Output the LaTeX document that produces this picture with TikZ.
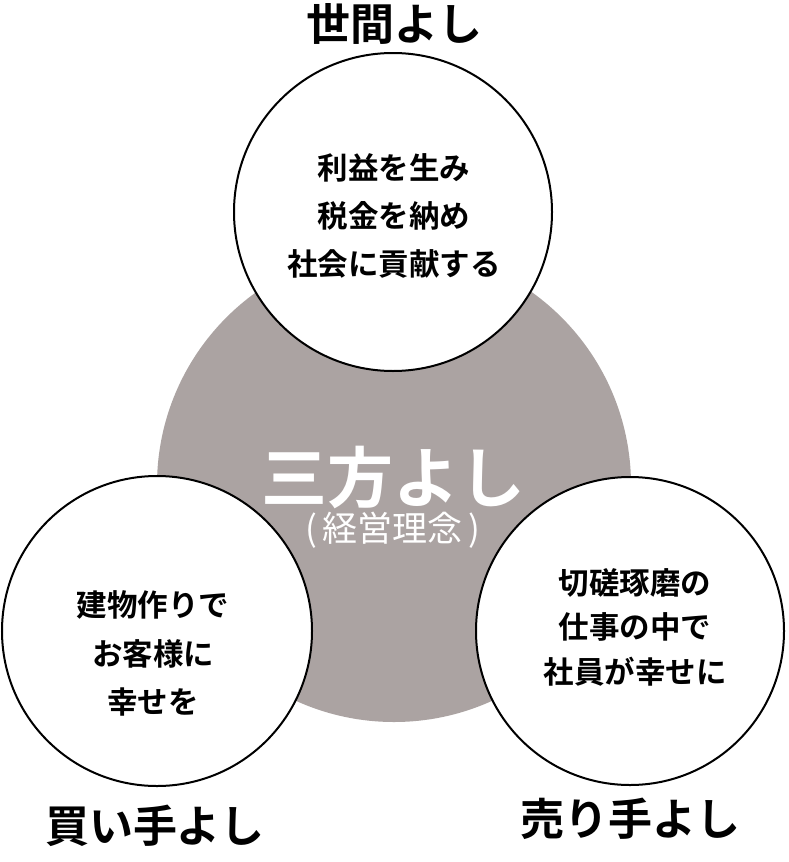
\documentclass[tikz,border=0pt]{standalone}
\usepackage{fontspec}
\newfontfamily\jpfont{Noto Sans CJK JP}[BoldFont={Noto Sans CJK JP Bold}]
\definecolor{hubgray}{RGB}{171,163,162}
\begin{document}
\begin{tikzpicture}[x=1pt,y=-1pt,
  sat/.style={circle,draw=black,line width=2pt,fill=white,inner sep=0pt},
  hub/.style={circle,fill=hubgray,inner sep=0pt},
  title/.style={font=\jpfont\bfseries\fontsize{44}{44}\selectfont,text=black,inner sep=0pt},
  body/.style={font=\jpfont\bfseries\fontsize{30.5}{30.5}\selectfont,text=black,inner sep=0pt}]
\useasboundingbox (0,0) rectangle (788,862);
\fill[white] (0,0) rectangle (788,862);
% hub
\node[hub,minimum size=474pt] (hubc) at (394,485) {};
\node[font=\jpfont\bfseries\fontsize{66}{66}\selectfont,text=white,inner sep=0pt] (hubt) at (393,478) {三方よし};
\node[font=\jpfont\fontsize{35}{35}\selectfont,text=white,inner sep=0pt] (hubs) at (393,530) {(\,経営理念\,)};
% satellites
\node[sat,minimum size=318pt] (top) at (393,212) {};
\node[sat,minimum size=310pt] (left) at (157,631) {};
\node[sat,minimum size=308pt] (right) at (630,631) {};
% body texts
\node[body] (t1) at (394,168) {利益を生み};
\node[body] (t2) at (394,216) {税金を納め};
\node[body] (t3) at (394,264) {社会に貢献する};
\node[body] (l1) at (153,605) {建物作りで};
\node[body] (l2) at (153,654) {お客様に};
\node[body] (l3) at (153,702) {幸せを};
\node[body] (r1) at (635,583) {切磋琢磨の};
\node[body] (r2) at (635,627) {仕事の中で};
\node[body] (r3) at (635,672) {社員が幸せに};
% titles
\node[title] (ttop) at (394,24) {世間よし};
\node[title] (tleft) at (155,826) {買い手よし};
\node[title] (tright) at (630,819) {売り手よし};
\end{tikzpicture}
\end{document}
